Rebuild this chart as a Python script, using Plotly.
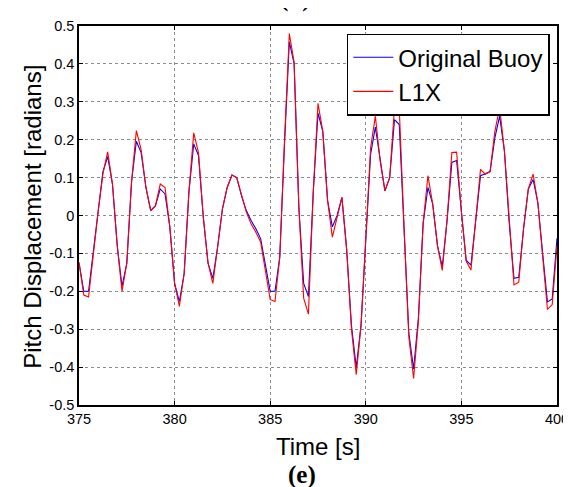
import numpy as np
import plotly.graph_objects as go

# Time axis: 375 s to 400 s, sampled every 0.25 s
time_s = [375 + 0.25 * k for k in range(101)]

original_buoy = [
    -0.124, -0.20, -0.20, -0.10, 0.01, 0.115, 0.155, 0.083, -0.08, -0.187,
    -0.126, 0.09, 0.196, 0.166, 0.074, 0.013, 0.026, 0.07, 0.057, -0.03,
    -0.179, -0.227, -0.153, 0.063, 0.189, 0.158, -0.004, -0.126, -0.166, -0.083,
    0.017, 0.074, 0.107, 0.10, 0.052, 0.013, -0.013, -0.035, -0.061, -0.131,
    -0.20, -0.20, -0.11, 0.19, 0.458, 0.401, 0.02, -0.179, -0.214, 0.06,
    0.27, 0.222, 0.04, -0.03, 0.0, 0.048, -0.09, -0.29, -0.401, -0.29,
    -0.06, 0.161, 0.233, 0.144, 0.065, 0.10, 0.253, 0.24, -0.03, -0.31,
    -0.405, -0.27, -0.02, 0.074, 0.03, -0.08, -0.135, -0.013, 0.14, 0.145,
    0.01, -0.118, -0.131, -0.004, 0.105, 0.11, 0.116, 0.205, 0.262, 0.17,
    -0.02, -0.166, -0.163, -0.035, 0.07, 0.095, 0.033, -0.10, -0.228, -0.22,
    -0.06,
]

l1x = [
    -0.124, -0.21, -0.215, -0.10, 0.01, 0.11, 0.168, 0.083, -0.08, -0.20,
    -0.126, 0.09, 0.224, 0.174, 0.074, 0.013, 0.026, 0.083, 0.074, -0.03,
    -0.179, -0.24, -0.153, 0.063, 0.218, 0.166, -0.004, -0.126, -0.179, -0.083,
    0.017, 0.074, 0.107, 0.10, 0.052, 0.009, -0.022, -0.044, -0.07, -0.144,
    -0.222, -0.227, -0.11, 0.20, 0.48, 0.405, 0.02, -0.218, -0.26, 0.06,
    0.296, 0.222, 0.04, -0.057, 0.0, 0.048, -0.09, -0.30, -0.42, -0.29,
    -0.06, 0.178, 0.262, 0.144, 0.065, 0.10, 0.285, 0.283, -0.03, -0.32,
    -0.43, -0.28, -0.02, 0.105, 0.03, -0.08, -0.145, -0.013, 0.166, 0.167,
    0.01, -0.12, -0.144, -0.004, 0.122, 0.109, 0.116, 0.222, 0.285, 0.17,
    -0.02, -0.183, -0.176, -0.035, 0.07, 0.109, 0.033, -0.10, -0.248, -0.235,
    -0.08,
]

x_ticks = [375, 380, 385, 390, 395, 400]
y_ticks = [-0.5, -0.4, -0.3, -0.2, -0.1, 0, 0.1, 0.2, 0.3, 0.4, 0.5]
y_tick_text = ["-0.5", "-0.4", "-0.3", "-0.2", "-0.1", "0", "0.1", "0.2", "0.3", "0.4", "0.5"]

FONT = "Liberation Sans, Arial, sans-serif"

fig = go.Figure()
fig.add_trace(go.Scatter(x=time_s, y=original_buoy, mode="lines", name="Original Buoy",
                         line=dict(color="#0000FF", width=1.1)))
fig.add_trace(go.Scatter(x=time_s, y=l1x, mode="lines", name="L1X",
                         line=dict(color="#FF0000", width=1.1)))

axis_common = dict(
    showline=True, linecolor="black", linewidth=1.5, mirror="ticks",
    ticks="inside", ticklen=4, tickcolor="black", tickwidth=1,
    showgrid=True, gridcolor="#8c8c8c", griddash="dot", gridwidth=1,
    zeroline=False, tickfont=dict(family=FONT, size=14.5, color="black"),
    ticklabeloverflow="allow",
)

fig.update_xaxes(range=[375, 400], tickvals=x_ticks, ticktext=[str(v) for v in x_ticks],
                 **axis_common)
fig.update_yaxes(range=[-0.5, 0.5], tickvals=y_ticks, ticktext=y_tick_text, **axis_common)

fig.update_layout(
    width=571, height=487,
    margin=dict(l=71, r=10, t=15, b=90),
    paper_bgcolor="white", plot_bgcolor="white",
    showlegend=True,
    legend=dict(
        x=0.985, y=0.98, xanchor="right", yanchor="top",
        bgcolor="white", bordercolor="black", borderwidth=1.5,
        font=dict(family=FONT, size=24, color="black"),
        tracegroupgap=0, itemwidth=40,
    ),
    annotations=[
        dict(text="Time [s]", xref="paper", yref="paper", x=0.5, y=-0.1086,
             xanchor="center", yanchor="middle", showarrow=False,
             font=dict(family=FONT, size=24, color="black")),
        dict(text="Pitch Displacement [radians]", xref="paper", yref="paper",
             x=-0.098, y=0.497, xanchor="center", yanchor="middle", textangle=-90,
             showarrow=False, font=dict(family=FONT, size=24, color="black")),
        dict(text="<b>(e)</b>", xref="paper", yref="paper", x=0.467, y=-0.185,
             xanchor="center", yanchor="middle", showarrow=False,
             font=dict(family="Liberation Serif, Times New Roman, serif", size=25, color="black")),
        dict(text="<b>(d)</b>", xref="paper", yref="paper", x=0.453, y=1.031,
             xanchor="center", yanchor="bottom", showarrow=False,
             font=dict(family="Liberation Serif, Times New Roman, serif", size=25, color="black")),
    ],
)

fig.write_html("out.html")
